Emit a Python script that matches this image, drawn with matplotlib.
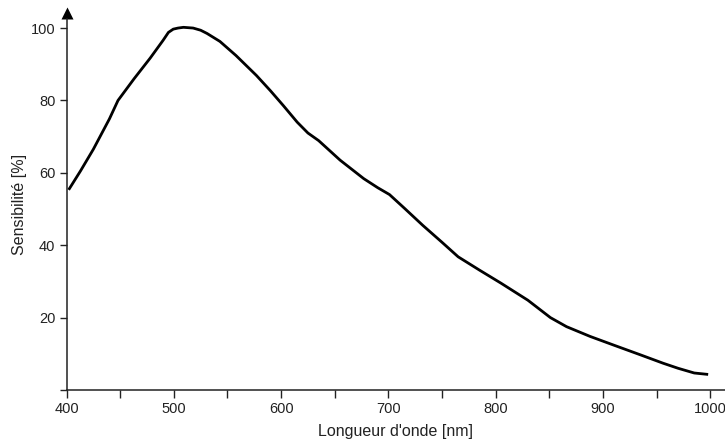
import matplotlib
matplotlib.use("Agg")
import matplotlib.pyplot as plt
from matplotlib.transforms import ScaledTranslation

plt.rcParams['font.family'] = ['Liberation Sans', 'DejaVu Sans']

# Spectral sensitivity curve
wavelength_nm = [402, 413, 425, 440, 448, 463, 478, 490, 495, 499.5, 504, 509,
                 518, 525, 531, 543, 558, 577, 590, 602, 615, 625, 635, 655,
                 677, 690, 701, 715, 732, 750, 765, 785, 805, 830, 851, 866,
                 888, 910, 935, 956, 970, 985, 998]
sensitivity_pct = [55.3, 60.5, 66.5, 74.9, 80.0, 86.0, 91.7, 96.6, 98.8, 99.7,
                   100.0, 100.2, 100.0, 99.4, 98.5, 96.3, 92.4, 86.9, 82.7,
                   78.6, 74.0, 71.0, 68.9, 63.5, 58.4, 55.9, 54.0, 50.2, 45.5,
                   40.8, 36.8, 33.1, 29.5, 24.8, 20.0, 17.5, 14.8, 12.4, 9.7,
                   7.4, 6.0, 4.7, 4.3]

x_major = [400, 500, 600, 700, 800, 900, 1000]
x_minor = [450, 550, 650, 750, 850, 950]
y_ticks = [0, 20, 40, 60, 80, 100]
y_labels = ['', '20', '40', '60', '80', '100']

fig = plt.figure(figsize=(7.25, 4.44), dpi=100)
W, H = 725, 444
left, right, bottom, top = 66.5, 725, 390, 19
ax = fig.add_axes([left / W, 1 - bottom / H, (right - left) / W, (bottom - top) / H])

ax.plot(wavelength_nm, sensitivity_pct, color='black', lw=2.0,
        solid_joinstyle='round', solid_capstyle='butt')

ax.set_xlim(400, 1013.7)
ax.set_ylim(0, 102.5)

ax.set_xticks(x_major)
ax.set_xticks(x_minor, minor=True)
ax.set_yticks(y_ticks)
ax.set_yticklabels(y_labels)

for s in ('top', 'right'):
    ax.spines[s].set_visible(False)
for s in ('left', 'bottom'):
    ax.spines[s].set_linewidth(1.1)
    ax.spines[s].set_color('#222222')

ax.tick_params(axis='both', which='both', direction='out', width=1.0,
               color='#222222', labelsize=10.5, labelcolor='#222222')
ax.tick_params(axis='x', which='both', length=5.5, pad=3)
ax.tick_params(axis='y', which='major', length=5, pad=3)

ax.set_xlabel("Longueur d'onde [nm]", fontsize=11.5, color='#222222', labelpad=6)
ax.set_ylabel("Sensibilité [%]", fontsize=11.5, color='#222222', labelpad=3)

# Arrow head on top of the vertical axis
off = ScaledTranslation(0, 5.5 / 100, fig.dpi_scale_trans)
ax.plot([0], [1], marker='^', ms=9, color='black', mec='none',
        transform=ax.transAxes + off, clip_on=False)

fig.savefig('out.png', dpi=100)
